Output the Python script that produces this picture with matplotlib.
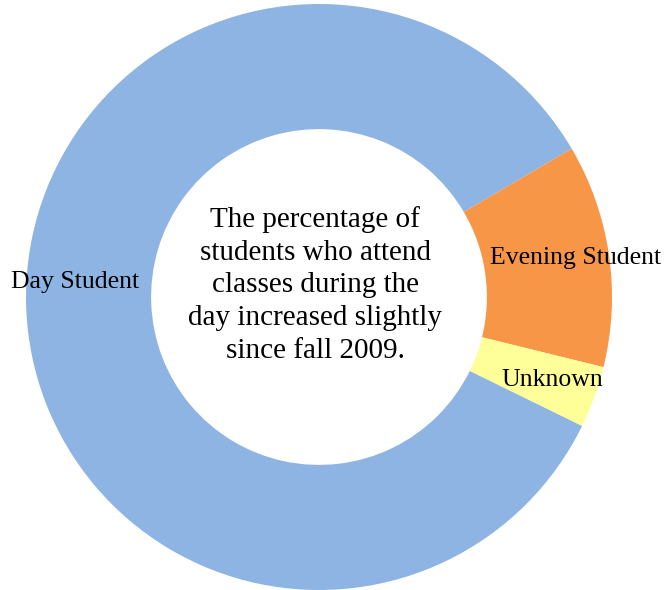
import numpy as np
import matplotlib
matplotlib.use("Agg")
import matplotlib.pyplot as plt

categories = ["Day Student", "Evening Student", "Unknown"]
values = [84.3, 12.3, 3.4]
colors = ["#8EB4E3", "#F79646", "#FFFF99"]
center_text = "The percentage of\nstudents who attend\nclasses during the\nday increased slightly\nsince fall 2009."

plt.rcParams['font.family'] = ['Liberation Serif', 'DejaVu Serif']

W, H = 668, 590
R = 293.0
cx, cy = 319.0, 297.0
fig = plt.figure(figsize=(W/100, H/100), dpi=100)
ax = fig.add_axes([0, 0, 1, 1])

wedges, _ = ax.pie(values, colors=colors, startangle=-26.1, counterclock=False,
                   radius=1.0, wedgeprops=dict(width=0.427, linewidth=0))
ax.set_xlim(-cx/R, (W-cx)/R)
ax.set_ylim(-(H-cy)/R, cy/R)
ax.set_aspect('equal')
ax.axis('off')

label_pos = [(0.835, 176.6), (0.885, 8.7), (0.845, -19.6)]
for lab, (r, ang) in zip(categories, label_pos):
    a = np.deg2rad(ang)
    ax.text(r*np.cos(a), r*np.sin(a), lab, ha='center', va='center', fontsize=18.5, color='black')

ax.text(-4/R, 12/R, center_text, ha='center', va='center', fontsize=21, linespacing=1.34)

fig.savefig("out.png", dpi=100)
